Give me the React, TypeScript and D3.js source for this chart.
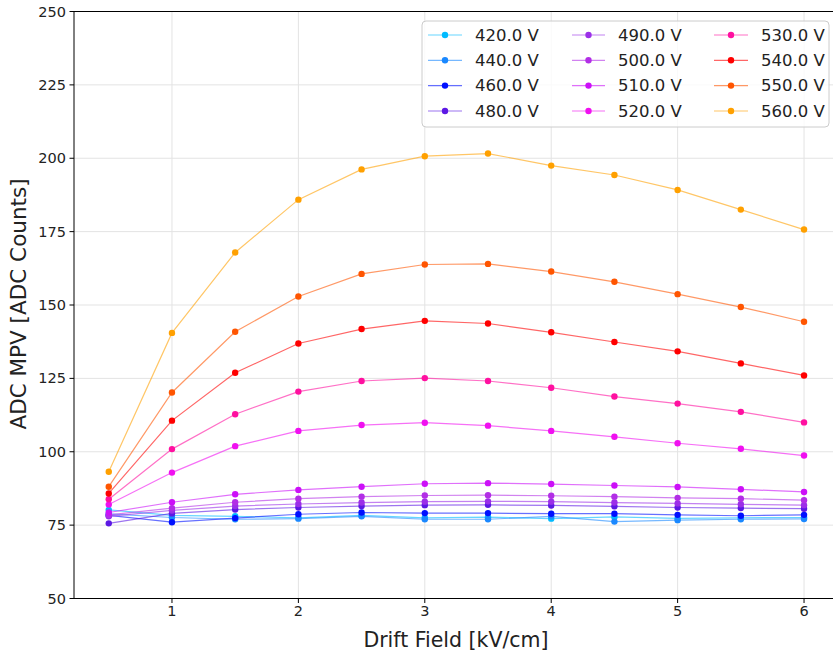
import React from "react";
import * as d3 from "d3";

const fields = [0.5, 1, 1.5, 2, 2.5, 3, 3.5, 4, 4.5, 5, 5.5, 6];
const voltages = ["420.0 V", "440.0 V", "460.0 V", "480.0 V", "490.0 V", "500.0 V", "510.0 V", "520.0 V", "530.0 V", "540.0 V", "550.0 V", "560.0 V"];
const colors = ["#00bbff", "#1a88ff", "#0010ff", "#5c18e4", "#9b2fe8", "#b22ee6", "#cc10f8", "#f010f0", "#ff10a0", "#ff0000", "#ff5500", "#ffa000"];

const v420 = [80.2, 78.3, 78.0, 77.5, 78.3, 77.5, 77.7, 77.2, 77.8, 77.3, 77.5, 77.6];
const v440 = [78.8, 77.6, 77.0, 77.2, 78.0, 77.0, 77.0, 78.0, 76.2, 76.7, 77.0, 77.1];
const v460 = [78.3, 76.0, 77.4, 78.7, 79.3, 79.1, 79.1, 78.9, 78.9, 78.5, 78.2, 78.5];
const v480 = [75.6, 79.0, 80.3, 81.0, 81.5, 81.8, 81.9, 81.7, 81.4, 81.0, 80.8, 80.6];
const v490 = [78.0, 80.0, 81.5, 82.2, 82.7, 83.0, 83.1, 83.0, 82.7, 82.4, 82.1, 81.8];
const v500 = [78.5, 80.8, 82.8, 84.0, 84.7, 85.1, 85.2, 85.0, 84.7, 84.3, 84.0, 83.5];
const v510 = [79.3, 82.8, 85.5, 87.0, 88.1, 89.1, 89.3, 89.0, 88.5, 88.0, 87.2, 86.3];
const v520 = [82.0, 92.9, 101.9, 107.1, 109.1, 109.9, 108.9, 107.1, 105.1, 102.9, 101.0, 98.7];
const v530 = [83.8, 100.9, 112.8, 120.5, 124.1, 125.1, 124.1, 121.8, 118.8, 116.4, 113.6, 110.0];
const v540 = [85.8, 110.6, 126.9, 136.9, 141.8, 144.6, 143.7, 140.7, 137.4, 134.2, 130.1, 126.0];
const v550 = [88.1, 120.2, 140.9, 152.9, 160.6, 163.8, 164.0, 161.4, 157.9, 153.7, 149.3, 144.3];
const v560 = [93.2, 140.5, 167.9, 185.9, 196.2, 200.7, 201.6, 197.5, 194.3, 189.2, 182.5, 175.7];

const seriesValues = [v420, v440, v460, v480, v490, v500, v510, v520, v530, v540, v550, v560];

const xTicks = [1, 2, 3, 4, 5, 6];
const yTicks = [50, 75, 100, 125, 150, 175, 200, 225, 250];

const W = 833;
const H = 654;
const FONT = "'DejaVu Sans', sans-serif";

export default function App() {
  const left = 74;
  const bottom = 598.5;
  const top = 11.5;
  const right = 838.8;
  const x = d3.scaleLinear().domain([0.225, 6.275]).range([left, right]);
  const y = d3.scaleLinear().domain([50, 250]).range([bottom, top]);
  const line = d3
    .line<[number, number]>()
    .x((d) => x(d[0]))
    .y((d) => y(d[1]));

  const legendRows = [35, 60.3, 85.6, 111];
  const legendCols = [
    { x0: 428, x1: 462, tx: 475 },
    { x0: 572, x1: 605, tx: 618 },
    { x0: 714, x1: 748, tx: 761 },
  ];

  return (
    <svg
      width={W}
      height={H}
      style={{ position: "absolute", left: 0, top: 0, background: "#fff" }}
      fontFamily={FONT}
    >
      <rect x={0} y={0} width={W} height={H} fill="#fff" />
      {/* grid */}
      {xTicks.map((t) => (
        <line key={"gx" + t} x1={x(t)} x2={x(t)} y1={top} y2={bottom} stroke="#e3e3e3" strokeWidth={1} />
      ))}
      {yTicks.map((t) => (
        <line key={"gy" + t} x1={left} x2={right} y1={y(t)} y2={y(t)} stroke="#e3e3e3" strokeWidth={1} />
      ))}
      {/* series */}
      {seriesValues.map((vals, i) => {
        const pts = fields.map((f, j) => [f, vals[j]] as [number, number]);
        return (
          <g key={"s" + i}>
            <path d={line(pts) || ""} fill="none" stroke={colors[i]} strokeOpacity={0.6} strokeWidth={1.2} />
            {pts.map((p, j) => (
              <circle key={j} cx={x(p[0])} cy={y(p[1])} r={3.2} fill={colors[i]} />
            ))}
          </g>
        );
      })}
      {/* spines */}
      <line x1={left} x2={left} y1={top} y2={bottom} stroke="#000" strokeWidth={1} />
      <line x1={left} x2={right} y1={bottom} y2={bottom} stroke="#000" strokeWidth={1} />
      <line x1={left} x2={right} y1={top} y2={top} stroke="#000" strokeWidth={1} />
      {/* ticks */}
      {xTicks.map((t) => (
        <g key={"tx" + t}>
          <line x1={x(t)} x2={x(t)} y1={bottom} y2={bottom + 4.5} stroke="#000" />
          <text x={x(t)} y={bottom + 17} textAnchor="middle" fontSize={14.5} fill="#222">
            {t}
          </text>
        </g>
      ))}
      {yTicks.map((t) => (
        <g key={"ty" + t}>
          <line x1={left - 4.5} x2={left} y1={y(t)} y2={y(t)} stroke="#000" />
          <text x={left - 8} y={y(t) + 5} textAnchor="end" fontSize={14.5} fill="#222">
            {t}
          </text>
        </g>
      ))}
      {/* axis labels */}
      <text x={456} y={647} textAnchor="middle" fontSize={20.5} fill="#222">
        Drift Field [kV/cm]
      </text>
      <text
        transform={`translate(26, ${304}) rotate(-90)`}
        textAnchor="middle"
        fontSize={21.5}
        fill="#222"
      >
        ADC MPV [ADC Counts]
      </text>
      {/* legend */}
      <rect x={422} y={21} width={407} height={106} rx={4} fill="#fff" fillOpacity={0.8} stroke="#cccccc" strokeWidth={1} />
      {voltages.map((v, i) => {
        const col = legendCols[Math.floor(i / 4)];
        const ry = legendRows[i % 4];
        return (
          <g key={"l" + i}>
            <line x1={col.x0} x2={col.x1} y1={ry} y2={ry} stroke={colors[i]} strokeOpacity={0.6} strokeWidth={1.2} />
            <circle cx={(col.x0 + col.x1) / 2} cy={ry} r={3.2} fill={colors[i]} />
            <text x={col.tx} y={ry + 5.8} fontSize={16.5} fill="#222">
              {v}
            </text>
          </g>
        );
      })}
    </svg>
  );
}
